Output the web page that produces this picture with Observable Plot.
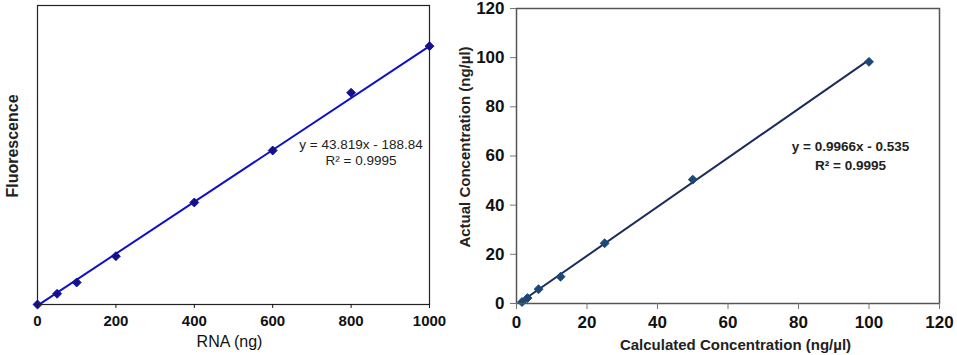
<!DOCTYPE html>
<html>
<head>
<meta charset="utf-8">
<script src="https://cdn.jsdelivr.net/npm/d3@7"></script>
<script src="https://cdn.jsdelivr.net/npm/@observablehq/plot@0.6"></script>
<style>
  html, body { margin: 0; padding: 0; background: #fff; }
  #wrap { position: relative; width: 957px; height: 355px; font-family: "Liberation Sans", Arial, sans-serif; }
  #left { position: absolute; left: 0; top: 0; }
  #right { position: absolute; left: 450px; top: 0; }
  svg { overflow: visible; }
  .ytitle { position: absolute; white-space: nowrap; font-weight: bold; color: #222;
            transform: translate(-50%, -50%) rotate(-90deg); line-height: 1; }
</style>
</head>
<body>
<div id="wrap">
  <div id="left"></div>
  <div id="right"></div>
  <div class="ytitle" style="left:13px; top:146px; font-size:16px;">Fluorescence</div>
  <div class="ytitle" style="left:464px; top:147px; font-size:15px;">Actual Concentration (ng/µl)</div>
</div>
<script>
// ---- Left panel: standard curve ----
const rnaNg = [0, 50, 100, 200, 400, 600, 800, 1000];
const fluorescence = [0, 1810, 3720, 8160, 17230, 26010, 35760, 43630];
const rnaTicks = [0, 200, 400, 600, 800, 1000];
const trendLeftX = [0, 1000];
const trendLeftY = [-188.84, 43630.16];
const eqLeft = "y = 43.819x - 188.84\nR² = 0.9995";

// ---- Right panel: calculated vs actual ----
const calcConc = [1.5625, 3.125, 6.25, 12.5, 25, 50, 100];
const actualConc = [0.6, 2.2, 5.8, 10.9, 24.5, 50.4, 98.3];
const concTicks = [0, 20, 40, 60, 80, 100, 120];
const trendRightX = [1.5625, 100];
const trendRightY = [1.02, 99.125];
const eqRight = "y = 0.9966x - 0.535\nR² = 0.9995";

const FONT = "Liberation Sans, Arial, sans-serif";

const leftData = rnaNg.map((x, i) => ({x, y: fluorescence[i]}));
const leftTrend = trendLeftX.map((x, i) => ({x, y: trendLeftY[i]}));

const left = Plot.plot({
  width: 450, height: 355,
  marginLeft: 37, marginRight: 21, marginTop: 5, marginBottom: 51,
  style: {fontFamily: FONT, background: "transparent", color: "#111"},
  x: {domain: [0, 1000]},
  y: {domain: [0, 50500], axis: null},
  marks: [
    Plot.line(leftTrend, {x: "x", y: "y", stroke: "#1010c8", strokeWidth: 2}),
    Plot.dot(leftData, {x: "x", y: "y", symbol: "diamond2", r: 4, fill: "#12128f", stroke: "#12128f", strokeWidth: 1}),
    Plot.frame({stroke: "#222", strokeWidth: 1.2}),
    Plot.axisX({ticks: rnaTicks, tickSize: 4, tickPadding: 7, fontSize: 15, fontWeight: "bold", label: null, tickFormat: d3.format("d")}),
    Plot.text([eqLeft], {frameAnchor: "top-left", dx: 323.5, dy: 146.5, textAnchor: "middle", lineAnchor: "middle", lineHeight: 1.13, fontSize: 13.5, fill: "#222"}),
    Plot.text(["RNA (ng)"], {frameAnchor: "bottom", dx: -4, dy: 37.5, lineAnchor: "middle", fontSize: 16, fill: "#111"})
  ]
});
document.getElementById("left").append(left);

const rightData = calcConc.map((x, i) => ({x, y: actualConc[i]}));
const rightTrend = trendRightX.map((x, i) => ({x, y: trendRightY[i]}));

const right = Plot.plot({
  width: 507, height: 355,
  marginLeft: 66, marginRight: 18, marginTop: 8, marginBottom: 52,
  style: {fontFamily: FONT, background: "transparent", color: "#111"},
  x: {domain: [0, 120]},
  y: {domain: [0, 120]},
  marks: [
    Plot.line(rightTrend, {x: "x", y: "y", stroke: "#1b2d5a", strokeWidth: 2}),
    Plot.dot(rightData, {x: "x", y: "y", symbol: "diamond2", r: 4, fill: "#1d4775", stroke: "#1d4775", strokeWidth: 1}),
    Plot.frame({stroke: "#555", strokeWidth: 1.5}),
    Plot.axisX({ticks: concTicks, tickSize: 6, tickPadding: 6, fontSize: 17, fontWeight: "bold", label: null, stroke: "#777"}),
    Plot.axisY({ticks: concTicks, tickSize: 6, tickPadding: 6, fontSize: 17, fontWeight: "bold", label: null, stroke: "#777"}),
    Plot.text([eqRight], {frameAnchor: "top-left", dx: 334, dy: 146.2, textAnchor: "middle", lineAnchor: "middle", lineHeight: 1.35, fontSize: 13.5, fontWeight: "bold", fill: "#222"}),
    Plot.text(["Calculated Concentration (ng/µl)"], {frameAnchor: "bottom", dx: 7.5, dy: 42, lineAnchor: "middle", fontSize: 15, fontWeight: "bold", fill: "#222"})
  ]
});
document.getElementById("right").append(right);
</script>
</body>
</html>
